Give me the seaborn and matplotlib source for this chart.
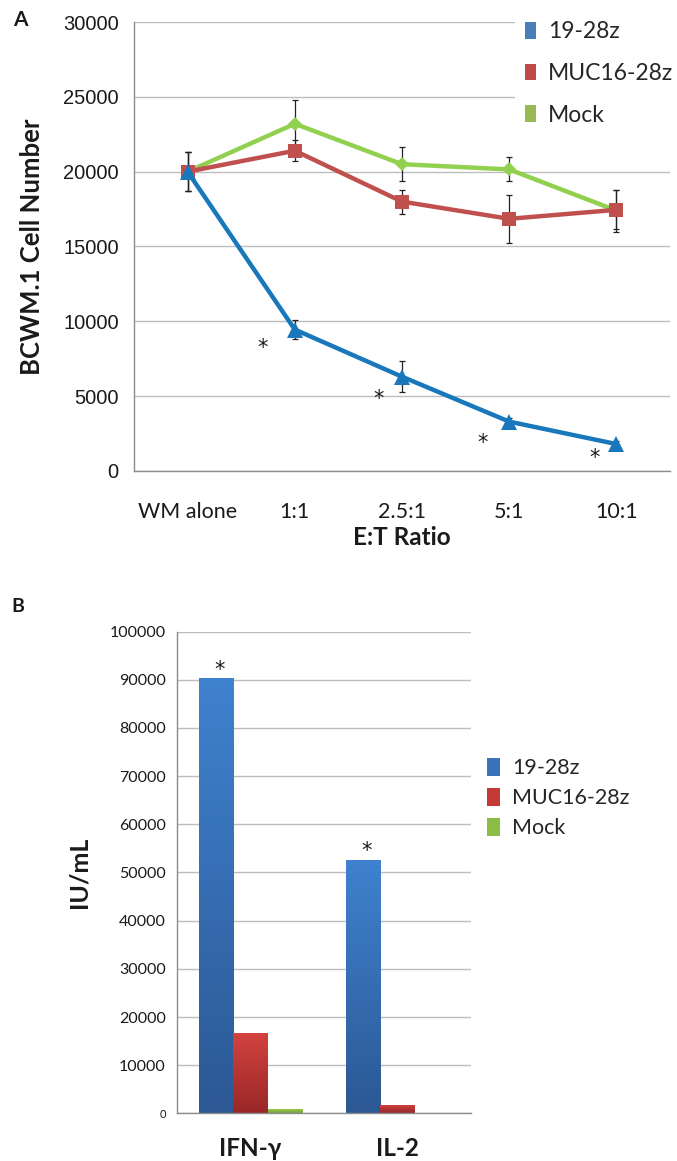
import numpy as np
import pandas as pd
import matplotlib
matplotlib.use("Agg")
import matplotlib.pyplot as plt
import seaborn as sns
from matplotlib.patches import Patch
from matplotlib.colors import LinearSegmentedColormap, to_hex

# ---------------- data ----------------
ratios = ["WM alone", "1:1", "2.5:1", "5:1", "10:1"]
series = ["19-28z", "MUC16-28z", "Mock"]
cart19 = [20000, 9450, 6300, 3300, 1800]
cart19_err = [1300, 650, 1050, 250, 200]
muc16 = [20000, 21400, 18000, 16850, 17450]
muc16_err = [1300, 700, 800, 1600, 1300]
mock = [20000, 23200, 20500, 20150, 17400]
mock_err = [1300, 1600, 1150, 800, 1400]
star_a_x = [0.70, 1.78, 2.75, 3.80]
star_a_y = [8200, 4800, 1900, 850]

cytokines = ["IFN-γ", "IL-2"]
bar_19 = [90300, 52600]
bar_muc = [16700, 1800]
bar_mock = [900, 150]

# ---------------- style ----------------
sns.set_theme(style="white")
plt.rcParams["font.family"] = ["Lato", "DejaVu Sans"]
TXT = "#1a1a1a"
GRID = "#bdbdbd"
SPINE = "#8c8c8c"

line_colors = {"19-28z": "#1878bb", "MUC16-28z": "#c0504d", "Mock": "#92d050"}
markers = {"19-28z": "^", "MUC16-28z": "s", "Mock": "D"}
legend_a_colors = {"19-28z": "#4a7ebb", "MUC16-28z": "#be4b48", "Mock": "#98b954"}

fig = plt.figure(figsize=(6.77, 11.61), dpi=100)
W, H = 677, 1161

def ax_rect(l, t, r, b):
    return [l / W, 1 - b / H, (r - l) / W, (b - t) / H]

# ---------------- Panel A ----------------
axA = fig.add_axes(ax_rect(134, 22, 670, 471))
rows = []
vals = {"19-28z": cart19, "MUC16-28z": muc16, "Mock": mock}
errs = {"19-28z": cart19_err, "MUC16-28z": muc16_err, "Mock": mock_err}
for s in ["Mock", "MUC16-28z", "19-28z"]:
    for i, r in enumerate(ratios):
        rows.append({"idx": i, "ratio": r, "value": vals[s][i], "series": s})
dfA = pd.DataFrame(rows)

msize = {"19-28z": 11, "MUC16-28z": 10, "Mock": 7}
for k, s in enumerate(["Mock", "MUC16-28z", "19-28z"]):
    sub = dfA[dfA["series"] == s]
    axA.errorbar(sub["idx"], sub["value"], yerr=errs[s], fmt="none",
                 ecolor="#222222", elinewidth=0.9, capsize=2.5, capthick=0.9,
                 zorder=2 + 2 * k)
    sns.lineplot(data=sub, x="idx", y="value", color=line_colors[s],
                 marker=markers[s], markersize=msize[s], markeredgewidth=0,
                 linewidth=3.2, ax=axA, legend=False, zorder=3 + 2 * k)

for xs, ys in zip(star_a_x, star_a_y):
    axA.text(xs, ys, "*", ha="center", va="center", fontsize=15, color=TXT,
             family=["DejaVu Sans"])

axA.set_xlim(-0.5, 4.5)
axA.set_ylim(0, 30000)
axA.set_yticks(np.arange(0, 30001, 5000))
axA.set_yticklabels([str(v) for v in range(0, 30001, 5000)],
                    family=["Liberation Sans", "DejaVu Sans"], fontsize=14.5, color=TXT)
axA.set_xticks(range(len(ratios)))
axA.set_xticklabels(ratios, fontsize=15.5, color=TXT)
axA.set_xticks(np.arange(-0.5, 4.6, 1.0), minor=True)
axA.tick_params(axis="x", which="major", length=0, pad=22)
axA.tick_params(axis="x", which="minor", length=6, width=1, color=SPINE, direction="out")
axA.tick_params(axis="y", which="major", length=5, width=1, color=SPINE, direction="out", pad=6)
axA.yaxis.grid(True, color=GRID, linewidth=1)
axA.set_axisbelow(True)
for sp in ["top", "right"]:
    axA.spines[sp].set_visible(False)
for sp in ["left", "bottom"]:
    axA.spines[sp].set_color(SPINE)
    axA.spines[sp].set_linewidth(1)
axA.set_xlabel("E:T Ratio", fontsize=17.5, fontweight="bold", color=TXT, labelpad=3)
axA.set_ylabel("BCWM.1 Cell Number", fontsize=18.5, fontweight="bold", color=TXT, labelpad=14)

handlesA = [Patch(facecolor=legend_a_colors[s], edgecolor="none", label=s) for s in series]
legA = axA.legend(handles=handlesA, loc="upper left", bbox_to_anchor=(515 / W, 1 - 11 / H),
                  bbox_transform=fig.transFigure, frameon=True, fontsize=16.5,
                  handlelength=0.45, handleheight=0.75, handletextpad=0.55,
                  labelspacing=0.9, borderpad=0.45, borderaxespad=0)
legA.get_frame().set_facecolor("white")
legA.get_frame().set_edgecolor("none")
legA.get_frame().set_alpha(1)
legA.set_zorder(20)

fig.text(20 / W, 1 - 20 / H, "A", fontsize=15, fontweight="bold", color=TXT,
         ha="center", va="center")

# ---------------- Panel B ----------------
axB = fig.add_axes(ax_rect(177, 631.5, 471, 1113.4))
rowsB = []
bvals = {"19-28z": bar_19, "MUC16-28z": bar_muc, "Mock": bar_mock}
for s in series:
    for i, c in enumerate(cytokines):
        rowsB.append({"cytokine": c, "value": bvals[s][i], "series": s})
dfB = pd.DataFrame(rowsB)
bar_base = {"19-28z": "#3a73b8", "MUC16-28z": "#c43a37", "Mock": "#8bbd45"}
sns.barplot(data=dfB, x="cytokine", y="value", hue="series", hue_order=series,
            order=cytokines, palette=bar_base, saturation=1, width=0.7,
            edgecolor="none", linewidth=0, ax=axB, legend=False, errorbar=None)

grad_cols = {"#3a73b8": ("#3f82cf", "#2c5894"),
             "#c43a37": ("#d4433f", "#982828"),
             "#8bbd45": ("#9bcf52", "#78a33a")}
for p in list(axB.patches):
    fc = to_hex(p.get_facecolor())
    top, bot = grad_cols.get(fc, (fc, fc))
    cmap = LinearSegmentedColormap.from_list("g", [bot, top])
    x0, y0 = p.get_x(), p.get_y()
    w, h = p.get_width(), p.get_height()
    grad = np.linspace(0, 1, 256).reshape(-1, 1)
    im = axB.imshow(grad, extent=[x0, x0 + w, y0, y0 + h], origin="lower",
                    aspect="auto", cmap=cmap, zorder=p.get_zorder() + 0.1)
    im.set_clip_path(p)

# asterisks above the 19-28z bars
blue_bars = [p for p in axB.patches if to_hex(p.get_facecolor()) == "#3a73b8"]
for p, v in zip(blue_bars, bar_19):
    axB.text(p.get_x() + p.get_width() / 2 + 0.02, v - 300, "*", ha="center",
             va="bottom", fontsize=15, color=TXT, family=["DejaVu Sans"])

axB.set_xlim(-0.5, 1.5)
axB.set_ylim(0, 100000)
yt = list(range(0, 100001, 10000))
axB.set_yticks(yt)
axB.set_yticklabels([str(v) for v in yt], fontsize=11.5, color=TXT)
axB.get_yticklabels()[0].set_fontsize(8)
axB.set_xticks(range(len(cytokines)))
axB.set_xticklabels(cytokines, fontsize=17.5, fontweight="bold", color=TXT)
axB.tick_params(axis="x", length=0, pad=17)
axB.tick_params(axis="y", length=4, width=1, color=SPINE, direction="out", pad=4)
axB.yaxis.grid(True, color=GRID, linewidth=1)
axB.set_axisbelow(True)
for sp in ["top", "right"]:
    axB.spines[sp].set_visible(False)
for sp in ["left", "bottom"]:
    axB.spines[sp].set_color(SPINE)
    axB.spines[sp].set_linewidth(1)
axB.set_xlabel("")
axB.set_ylabel("IU/mL", fontsize=18, fontweight="bold", color=TXT, labelpad=14)

handlesB = [Patch(facecolor=bar_base[s], edgecolor="none", label=s) for s in series]
legB = axB.legend(handles=handlesB, loc="center left",
                  bbox_to_anchor=(478 / W, 1 - 798 / H), bbox_transform=fig.transFigure,
                  frameon=False, fontsize=15.5, handlelength=0.6, handleheight=0.9,
                  handletextpad=0.6, labelspacing=0.45, borderaxespad=0)

fig.text(18 / W, 1 - 606 / H, "B", fontsize=14, fontweight="bold", color=TXT,
         ha="center", va="center")

fig.savefig("out.png", dpi=100)
